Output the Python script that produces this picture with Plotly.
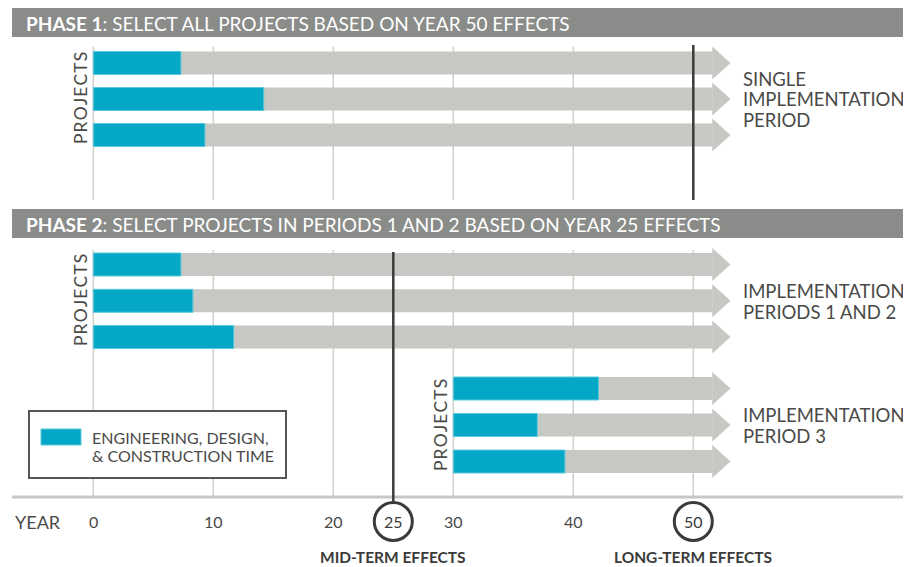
import plotly.graph_objects as go

# ---------------- data ----------------
years_grid = [0, 10, 20, 30, 40, 50]
tick_years = [0, 10, 20, 25, 30, 40, 50]
tick_labels = ["0", "10", "20", "25", "30", "40", "50"]
circled_years = [25, 50]
effect_labels = ["MID-TERM EFFECTS", "LONG-TERM EFFECTS"]

phase1_start = [0, 0, 0]
phase1_edc = [7.3, 14.2, 9.3]          # end of engineering/design/construction (year)
phase2_start = [0, 0, 0]
phase2_edc = [7.3, 8.3, 11.7]
phase3_start = [30, 30, 30]
phase3_edc = [42.1, 37.0, 39.3]
effects_end = 53.1                      # arrow tip (year)

phase_titles = [("PHASE 1", ": SELECT ALL PROJECTS BASED ON YEAR 50 EFFECTS"),
                ("PHASE 2", ": SELECT PROJECTS IN PERIODS 1 AND 2 BASED ON YEAR 25 EFFECTS")]
period_labels = [["SINGLE", "IMPLEMENTATION", "PERIOD"],
                 ["IMPLEMENTATION", "PERIODS 1 AND 2"],
                 ["IMPLEMENTATION", "PERIOD 3"]]
legend_label = ["ENGINEERING, DESIGN,", "& CONSTRUCTION TIME"]

# ---------------- layout constants (pixels) ----------------
PAGE_OFF = 8                 # default page body margin
W, H = 911 - PAGE_OFF, 567 - PAGE_OFF
X0PX, PXPY = 93.3, 12.0      # page pixel of year 0, pixels per year
FONT = "Lato"
TEAL = "#04a8c6"
GRAY = "#c6c8c3"
HEAD = "#8a8c89"
DARK = "#3b3b39"
TXT = "#4a4a48"
GRID = "#d0d1ce"

def px2yr(p):
    return (p - X0PX) / PXPY

def px2paper(p):
    return (p - PAGE_OFF) / W

groups = [
    dict(start=phase1_start, edc=phase1_edc, y=[63, 99, 135]),
    dict(start=phase2_start, edc=phase2_edc, y=[264.5, 300.8, 337]),
    dict(start=phase3_start, edc=phase3_edc, y=[388.5, 425, 461.5]),
]
BAR_H = 23
HEAD_H = 33
HEAD_LEN = 18 / PXPY

fig = go.Figure()
shapes = []
annotations = []

# headers
for hy, (bold, rest) in zip([8, 209], phase_titles):
    shapes.append(dict(type="rect", xref="paper", yref="y", x0=px2paper(12), x1=1, y0=hy, y1=hy + 29,
                       fillcolor=HEAD, line=dict(width=0), layer="below"))
    annotations.append(dict(xref="x", yref="y", x=px2yr(24), y=hy + 15, xanchor="left", yanchor="middle",
                            text=f"<b>{bold}</b>{rest}", showarrow=False,
                            font=dict(family=FONT, size=19, color="white")))

# gridlines
for yr in years_grid:
    shapes.append(dict(type="line", xref="x", yref="y", x0=yr, x1=yr, y0=47, y1=200,
                       line=dict(color=GRID, width=1.5), layer="below"))
    shapes.append(dict(type="line", xref="x", yref="y", x0=yr, x1=yr, y0=250, y1=497,
                       line=dict(color=GRID, width=1.5), layer="below"))

# base axis line
shapes.append(dict(type="line", xref="paper", yref="y", x0=px2paper(12), x1=1, y0=497, y1=497,
                   line=dict(color=GRAY, width=3), layer="below"))

body_end = effects_end - HEAD_LEN
# gray arrow bodies (bars)
for g in groups:
    fig.add_trace(go.Bar(orientation="h", base=g["start"], x=[body_end - s for s in g["start"]],
                         y=g["y"], width=BAR_H, marker=dict(color=GRAY, line=dict(width=0)),
                         showlegend=False, hoverinfo="skip"))
# teal bars
for g in groups:
    fig.add_trace(go.Bar(orientation="h", base=g["start"],
                         x=[e - s for e, s in zip(g["edc"], g["start"])], y=g["y"], width=BAR_H,
                         marker=dict(color=TEAL, line=dict(color="#5cc8dc", width=1)),
                         showlegend=False, hoverinfo="skip"))
# arrow heads
for g in groups:
    for yc in g["y"]:
        fig.add_trace(go.Scatter(x=[body_end - 0.02, effects_end, body_end - 0.02, body_end - 0.02],
                                 y=[yc - HEAD_H / 2, yc, yc + HEAD_H / 2, yc - HEAD_H / 2],
                                 mode="lines", fill="toself", fillcolor=GRAY,
                                 line=dict(width=0, color=GRAY), hoverinfo="skip", showlegend=False))

# black effect lines
shapes.append(dict(type="line", xref="x", yref="y", x0=circled_years[1], x1=circled_years[1], y0=45, y1=200,
                   line=dict(color=DARK, width=2.5)))
shapes.append(dict(type="line", xref="x", yref="y", x0=circled_years[0], x1=circled_years[0], y0=252, y1=502,
                   line=dict(color=DARK, width=2.5)))

# PROJECTS labels
proj = "\u200a".join("PROJECTS")
for xp, yc in [(80, 98), (80, 300), (440, 425)]:
    annotations.append(dict(xref="x", yref="y", x=px2yr(xp), y=yc, text=proj,
                            textangle=-90, showarrow=False, xanchor="center", yanchor="middle",
                            font=dict(family=FONT, size=17.5, color=TXT)))

# right labels (one annotation per line for tight leading)
LEAD = 20.5
for lines, yc in zip(period_labels, [99, 301.5, 425.5]):
    n = len(lines)
    for i, ln in enumerate(lines):
        annotations.append(dict(xref="x", yref="y", x=px2yr(741), y=yc + (i - (n - 1) / 2) * LEAD,
                                text=ln, showarrow=False, xanchor="left", yanchor="middle", align="left",
                                font=dict(family=FONT, size=18.5, color=TXT)))

# legend box
shapes.append(dict(type="rect", xref="x", yref="y", x0=px2yr(29), x1=px2yr(286), y0=411, y1=478,
                   fillcolor="white", line=dict(color="#555553", width=2)))
shapes.append(dict(type="rect", xref="x", yref="y", x0=px2yr(41), x1=px2yr(81), y0=429, y1=445,
                   fillcolor=TEAL, line=dict(color="#5cc8dc", width=1)))
for i, ln in enumerate(legend_label):
    annotations.append(dict(xref="x", yref="y", x=px2yr(90), y=437 + i * 18.5, text=ln, showarrow=False,
                            xanchor="left", yanchor="middle", align="left",
                            font=dict(family=FONT, size=16, color=TXT)))

# ticks
annotations.append(dict(xref="x", yref="y", x=px2yr(38), y=521.5, text="YEAR", showarrow=False,
                        xanchor="center", yanchor="middle", font=dict(family=FONT, size=18, color=TXT)))
for yr, lab in zip(tick_years, tick_labels):
    annotations.append(dict(xref="x", yref="y", x=yr, y=521.5, text=lab, showarrow=False,
                            xanchor="center", yanchor="middle",
                            font=dict(family=FONT, size=16, color=DARK if yr in circled_years else TXT)))
for yr, lab in zip(circled_years, effect_labels):
    shapes.append(dict(type="circle", xref="x", yref="y", xsizemode="pixel", xanchor=yr,
                       x0=-19, x1=19, y0=502.5, y1=540.5, line=dict(color=DARK, width=3),
                       fillcolor="rgba(0,0,0,0)"))
    annotations.append(dict(xref="x", yref="y", x=yr, y=556.5, text=f"<b>{lab}</b>", showarrow=False,
                            xanchor="center", yanchor="middle",
                            font=dict(family=FONT, size=15.5, color=DARK)))

fig.update_layout(
    width=W, height=H, margin=dict(l=0, r=0, t=0, b=0),
    paper_bgcolor="white", plot_bgcolor="white", showlegend=False, barmode="overlay",
    xaxis=dict(range=[px2yr(PAGE_OFF), px2yr(911)], visible=False, fixedrange=True),
    yaxis=dict(range=[567, PAGE_OFF], visible=False, fixedrange=True),
    shapes=shapes, annotations=annotations,
)
fig.write_html("out.html")
